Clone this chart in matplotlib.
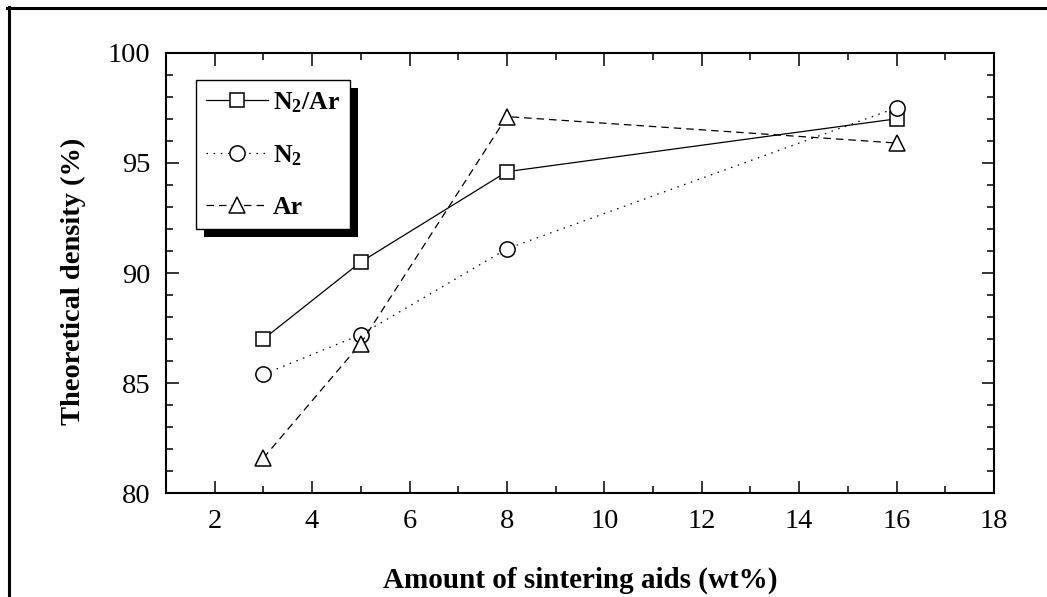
import matplotlib
matplotlib.use("Agg")
import matplotlib.pyplot as plt
from matplotlib.lines import Line2D
from matplotlib.patches import Rectangle
from matplotlib.ticker import MultipleLocator

plt.rcParams['font.family'] = ['Liberation Serif', 'DejaVu Serif']
plt.rcParams['mathtext.fontset'] = 'custom'
plt.rcParams['mathtext.rm'] = 'Liberation Serif'
plt.rcParams['mathtext.bf'] = 'Liberation Serif:bold'
plt.rcParams['mathtext.it'] = 'Liberation Serif:italic'

# sintering aid content (wt%) and relative density (%) per atmosphere
aids = [3, 5, 8, 16]
n2_ar = [87.0, 90.5, 94.6, 97.0]
n2 = [85.4, 87.2, 91.1, 97.5]
ar = [81.6, 86.8, 97.1, 95.9]

fig = plt.figure(figsize=(10.47, 5.97), dpi=100)
ax = fig.add_axes([0.1585, 0.1737, 0.7909, 0.7380])

mk = dict(color='black', markerfacecolor='white', markeredgecolor='black',
          markeredgewidth=1.1, lw=0.9)
ax.plot(aids, n2_ar, marker='s', ms=10, ls='-', label=r'$\mathbf{N_2}$/Ar', **mk)
ax.plot(aids, n2, marker='o', ms=11, ls=(0, (1.2, 4.5)), label=r'$\mathbf{N_2}$', **mk)
ax.plot(aids, ar, marker='^', ms=12, ls=(0, (6, 4)), label='Ar', **mk)

ax.set_xlim(1, 18)
ax.set_ylim(80, 100)
ax.xaxis.set_major_locator(MultipleLocator(2))
ax.xaxis.set_minor_locator(MultipleLocator(1))
ax.yaxis.set_major_locator(MultipleLocator(5))
ax.yaxis.set_minor_locator(MultipleLocator(1))
ax.tick_params(which='both', direction='in', top=True, right=True, width=1.1)
ax.tick_params(which='major', length=9, labelsize=20.5)
ax.tick_params(which='minor', length=5)
ax.tick_params(axis='x', pad=11)
ax.tick_params(axis='y', pad=11)
for sp in ax.spines.values():
    sp.set_linewidth(1.5)

ax.set_xlabel('Amount of sintering aids (wt%)', fontsize=21, fontweight='bold', labelpad=24)
ax.set_ylabel('Theoretical density (%)', fontsize=20.5, fontweight='bold')
ax.yaxis.set_label_coords(-0.096, 0.482)

leg = ax.legend(loc='upper left', bbox_to_anchor=(0.036, 0.938), borderaxespad=0,
                fancybox=False, edgecolor='black', framealpha=1, handlelength=2.4,
                handletextpad=0.2, labelspacing=1.1, borderpad=0.4,
                prop={'weight': 'bold', 'size': 18.5})
leg.get_frame().set_linewidth(1.0)
leg.set_zorder(5)

# drop shadow under the legend box
fig.canvas.draw()
bb = leg.get_frame().get_window_extent().transformed(fig.transFigure.inverted())
off_x, off_y = 8 / 1047, 8 / 597
ax.add_patch(Rectangle((bb.x0 + off_x, bb.y0 - off_y), bb.width, bb.height,
                       transform=fig.transFigure, facecolor='black',
                       edgecolor='none', zorder=4, clip_on=False))

# page frame (top and left edges)
fig.add_artist(Line2D([7 / 1047, 1], [1 - 8 / 597, 1 - 8 / 597], color='black', lw=2.2))
fig.add_artist(Line2D([8.5 / 1047, 8.5 / 1047], [0, 1 - 7 / 597], color='black', lw=2.2))

fig.savefig('out.png', dpi=100)
